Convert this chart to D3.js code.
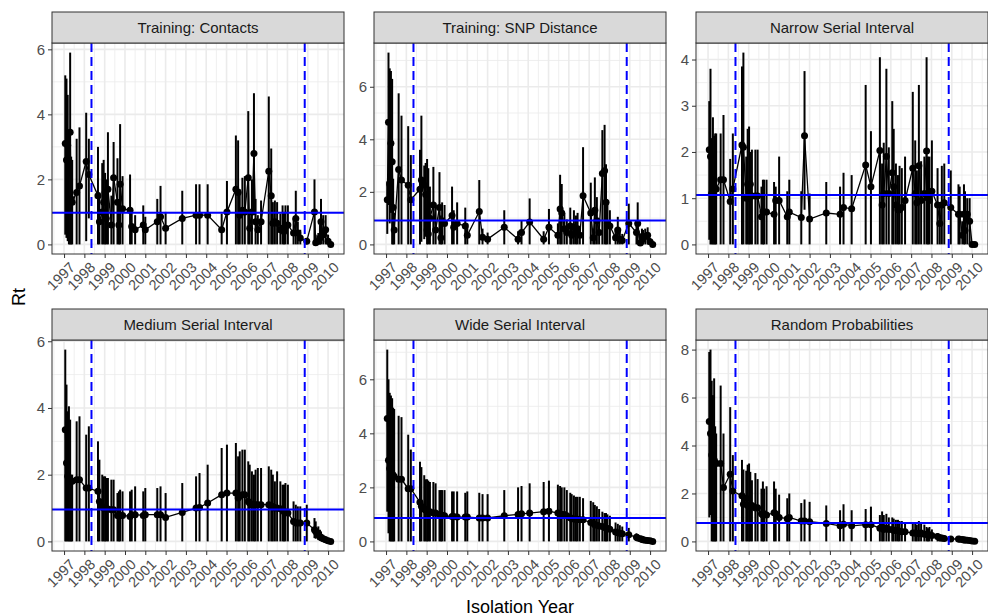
<!DOCTYPE html>
<html>
<head>
<meta charset="utf-8">
<script src="https://cdn.jsdelivr.net/npm/d3@7"></script>
<style>
body { margin: 0; background: #fff; }
text { font-family: "Liberation Sans", Arial, sans-serif; }
</style>
</head>
<body>
<div id="my_dataviz"></div>
<script>
// isolation times shared by every panel
var years = [1997.06,1997.12,1997.18,1997.24,1997.30,1997.35,1997.40,1997.62,1997.76,1998.09,
  1998.22,1998.67,1998.74,1998.88,1998.95,1999.02,1999.08,1999.16,1999.33,1999.44,
  1999.63,1999.70,1999.76,1999.88,2000.25,2000.33,2000.50,2000.90,2001.00,2001.59,
  2001.75,2002.00,2002.82,2003.50,2003.67,2004.07,2004.76,2005.02,2005.46,2005.57,
  2005.65,2005.78,2005.90,2006.07,2006.14,2006.25,2006.35,2006.43,2006.54,2006.70,
  2007.08,2007.20,2007.28,2007.38,2007.49,2007.65,2007.76,2007.83,2007.90,2008.02,
  2008.30,2008.41,2008.51,2008.63,2008.95,2009.33,2009.39,2009.52,2009.60,2009.65,
  2009.76,2009.88,2010.00,2010.13];

// Training: Contacts
var contactsMid = [3.1,2.6,3.05,2.2,3.45,1.4,1.3,1.6,1.8,2.55,
  2.15,1.5,0.7,1.0,1.3,1.6,0.8,1.7,0.6,2.05,
  1.3,0.6,1.85,1.1,1.05,0.55,0.45,0.6,0.45,0.7,
  0.85,0.5,0.8,0.9,0.9,0.9,0.45,1.0,1.7,1.6,
  0.9,1.05,1.0,2.05,0.5,1.0,2.8,0.7,0.45,0.7,
  2.25,1.5,0.65,0.7,0.65,0.45,0.5,0.4,0.55,0.6,
  0.35,0.8,0.35,0.2,0.1,1.0,0.05,0.1,0.2,0.7,
  0.3,0.45,0.1,0.0];
var contactsHi = [5.2,5.1,4.6,3.4,5.9,2.7,2.6,3.25,3.6,4.05,
  3.25,3.0,1.6,2.5,2.6,2.2,2.0,3.45,1.5,3.15,
  2.65,1.3,3.7,2.1,2.15,1.1,0.9,1.2,0.85,1.4,
  1.8,1.0,1.65,1.85,1.85,1.85,0.95,1.95,3.35,3.2,
  1.7,2.05,2.1,4.1,1.0,2.0,4.65,1.4,0.9,1.35,
  4.55,2.95,1.3,1.35,1.3,0.95,1.2,1.0,1.2,1.2,
  0.8,1.65,0.7,0.45,0.2,2.0,0.3,0.35,0.6,1.4,
  0.9,0.9,0.3,0.05];
var contactsLo = [0.3,0.2,0.1,0,0,0,0,0,0,0.1,
  0.8,0,0,0,0,0,0,0,0,0,
  0,0,0,0,0,0,0,0,0,0,
  0,0,0,0,0,0,0,0,0,0,
  0,0,0,0,0,0,0.9,0,0,0,
  0,0,0,0,0,0,0,0,0,0,
  0,0,0,0,0,0,0,0,0,0,
  0,0,0,0];

// Training: SNP Distance
var snpMid = [1.7,4.65,2.3,3.85,3.15,1.4,0.55,2.85,2.45,2.25,
  1.7,2.1,2.45,2.25,1.9,0.55,0.4,1.0,1.5,0.55,
  1.4,0.25,0.9,0.8,1.1,0.65,0.8,0.7,0.35,1.25,
  0.27,0.2,0.65,0.2,0.45,0.85,0.2,0.65,0.35,1.35,
  1.2,0.6,0.45,0.7,0.35,0.65,0.5,0.6,0.35,1.85,
  1.2,0.25,1.3,0.9,0.45,2.7,2.8,1.6,0.8,0.7,
  0.25,0.55,0.2,0.15,0.8,0.45,0.8,0.05,0.3,0.2,
  0.3,0.35,0.1,0.0];
var snpHi = [2.4,7.3,6.7,6.6,6.3,2.5,1.2,5.75,4.9,4.5,
  3.4,3.6,4.9,3.0,3.1,3.25,2.9,2.2,2.95,1.5,
  2.75,1.1,1.6,1.5,2.2,1.3,1.6,1.4,0.8,2.45,
  0.6,0.45,1.3,0.5,0.9,1.75,0.5,1.35,0.8,2.65,
  2.3,1.2,0.95,1.4,0.8,1.3,1.1,1.2,0.7,3.7,
  2.35,0.6,2.55,1.8,0.95,4.35,4.55,3.05,1.6,1.3,
  0.6,1.05,0.5,0.4,1.55,0.9,1.6,0.3,0.6,0.55,
  0.6,0.65,0.25,0.05];
var snpLo = [0.4,1.5,0.8,1.2,0,0,0,0,0,0,
  0,0,0.1,0.2,0.3,0,0,0,0,0,
  0,0,0,0,0,0,0,0,0,0,
  0,0,0,0,0,0,0,0,0,0,
  0,0,0,0,0,0,0,0,0,0,
  0,0,0,0,0,0,0,0,0,0,
  0,0,0,0,0,0,0,0,0,0,
  0,0,0,0];

// Narrow Serial Interval
var narrowMid = [2.05,1.9,1.1,1.4,1.2,1.2,1.2,1.4,1.4,0.93,
  1.2,2.15,2.1,1.0,1.3,1.0,1.3,1.05,1.05,1.05,
  0.6,0.7,0.7,0.7,0.65,0.95,0.95,0.6,0.7,0.58,
  2.35,0.55,0.68,0.65,0.8,0.77,1.72,1.25,2.03,0.85,
  1.1,1.9,1.1,1.55,1.25,0.85,0.75,0.75,0.8,0.95,
  1.65,1.1,0.9,1.7,0.95,1.1,2.02,1.0,0.95,1.15,
  0.85,0.45,0.85,0.9,0.8,0.65,0.65,0.2,0.65,0.3,
  0.65,0.5,0.0,0.0];
var narrowHi = [3.1,3.8,2.3,2.75,2.35,2.4,2.4,2.4,2.8,1.85,
  2.4,3.85,4.15,1.9,2.5,2.55,2.0,2.05,2.05,2.05,
  1.25,1.4,1.4,1.4,1.35,1.25,1.9,1.15,1.4,1.15,
  3.75,1.1,1.35,1.25,1.55,1.5,3.45,2.45,4.05,1.75,
  2.2,3.8,2.1,3.1,2.5,1.75,1.5,1.7,1.65,1.9,
  3.3,2.25,1.6,3.45,1.8,1.9,4.05,1.9,1.9,2.25,
  1.65,0.9,1.7,1.75,1.6,1.3,1.25,0.5,1.3,1.15,
  1.0,1.0,0.05,0.02];
var narrowLo = [0.1,0,0,0,0,0,0,0,0,0,
  0,0,0,0,0,0,0,0,0,0,
  0,0,0,0,0,0,0,0,0,0,
  0.75,0,0,0,0,0,0,0,0,0,
  0,0,0,0,0,0,0,0,0,0,
  0,0,0,0,0,0,0,0,0,0,
  0,0,0,0,0,0,0,0,0,0,
  0,0,0,0];

// Medium Serial Interval
var mediumMid = [3.35,2.35,1.95,1.85,1.85,1.8,1.8,1.85,1.85,1.6,
  1.6,1.5,1.2,1.05,1.0,1.0,0.98,0.97,0.95,0.95,
  0.78,0.77,0.78,0.78,0.75,0.8,0.8,0.78,0.8,0.8,
  0.8,0.72,0.87,1.0,1.02,1.15,1.4,1.45,1.45,1.3,
  1.35,1.4,1.4,1.2,1.15,1.1,1.1,1.1,1.1,1.1,
  1.1,1.05,1.05,1.0,1.0,0.98,0.95,0.9,0.88,0.85,
  0.6,0.55,0.55,0.55,0.55,0.35,0.3,0.2,0.15,0.12,
  0.08,0.05,0.02,0.0];
var mediumHi = [5.75,4.7,3.9,4.05,3.65,2.0,2.0,3.6,3.75,3.2,
  3.45,3.0,2.45,2.0,1.95,1.95,1.9,1.9,1.85,1.85,
  1.45,1.5,1.55,1.5,1.5,1.55,1.65,1.5,1.6,1.6,
  1.65,1.45,1.75,1.95,2.05,2.3,2.8,2.9,2.95,2.55,
  2.7,2.75,2.75,2.4,2.3,2.1,2.0,2.15,2.2,2.2,
  2.25,2.15,2.0,1.8,2.1,1.8,1.7,1.7,1.75,1.7,
  1.2,1.1,1.05,1.05,1.1,0.7,0.6,0.45,0.35,0.3,
  0.2,0.15,0.08,0.03];
var mediumLo = [0,0,0,0,0,0,0,0,0,0,
  0,0,0,0,0,0,0,0,0,0,
  0,0,0,0,0,0,0,0,0,0,
  0,0,0,0,0,0,0,0,0,0,
  0,0,0,0,0,0,0,0,0,0,
  0,0,0,0,0,0,0,0,0,0,
  0,0,0,0,0,0.1,0.08,0.04,0.02,0.01,
  0,0,0,0];

// Wide Serial Interval
var wideMid = [4.55,3.0,2.7,2.6,2.5,2.45,2.4,2.3,2.3,1.95,
  1.95,1.45,1.3,1.2,1.15,1.15,1.1,1.1,1.05,1.05,
  1.0,0.98,0.97,0.95,0.92,0.92,0.9,0.9,0.9,0.87,
  0.87,0.87,0.95,1.0,1.02,1.05,1.1,1.12,1.05,1.02,
  1.0,1.0,0.95,0.88,0.85,0.83,0.82,0.82,0.8,0.8,
  0.7,0.67,0.62,0.6,0.57,0.55,0.52,0.5,0.48,0.45,
  0.35,0.32,0.3,0.28,0.25,0.15,0.13,0.1,0.08,0.06,
  0.04,0.03,0.02,0.0];
var wideHi = [7.1,6.0,5.5,5.4,5.3,4.95,4.9,4.65,4.6,3.95,
  3.4,2.95,2.75,2.45,2.3,2.3,2.25,2.2,2.2,2.15,
  1.9,1.9,1.9,1.9,1.85,1.85,1.85,1.8,1.85,1.8,
  1.75,1.75,1.9,2.0,2.05,2.15,2.2,2.25,2.1,2.05,
  2.0,2.0,1.9,1.8,1.75,1.7,1.65,1.65,1.65,1.6,
  1.5,1.45,1.35,1.3,1.2,1.1,1.05,1.05,1.0,0.95,
  0.7,0.65,0.6,0.55,0.5,0.3,0.27,0.2,0.16,0.12,
  0.09,0.06,0.04,0.01];
var wideLo = [1.1,0.3,0,0,0,0,0,0,0,0,
  0,0,0,0,0,0,0,0,0,0,
  0,0,0,0,0,0,0,0,0,0,
  0,0,0,0,0,0,0,0,0,0,
  0,0,0,0,0,0,0,0,0,0,
  0,0,0,0,0,0,0,0,0,0,
  0,0,0,0,0,0.05,0.04,0.03,0.02,0.01,
  0,0,0,0];

// Random Probabilities
var randomMid = [5.0,4.5,3.6,3.5,3.4,3.3,3.25,3.25,2.25,2.8,
  2.1,1.9,1.55,1.8,1.5,1.5,1.45,1.5,1.4,1.4,
  1.15,1.1,1.15,1.1,1.2,1.15,1.0,0.95,1.0,0.85,
  0.85,0.82,0.75,0.65,0.72,0.65,0.7,0.7,0.55,0.6,
  0.5,0.55,0.5,0.5,0.45,0.45,0.45,0.42,0.4,0.4,
  0.35,0.35,0.33,0.32,0.35,0.3,0.3,0.28,0.28,0.25,
  0.2,0.15,0.14,0.12,0.1,0.1,0.09,0.08,0.06,0.06,
  0.05,0.04,0.02,0.01];
var randomHi = [7.9,8.0,6.7,6.1,6.8,4.8,4.5,6.5,4.5,5.6,
  3.6,3.4,3.0,2.95,3.2,3.25,2.9,2.55,2.85,2.6,
  2.2,2.5,2.2,2.3,2.5,2.2,1.95,1.8,2.0,1.6,
  1.75,1.65,1.5,1.3,1.55,1.3,1.35,1.45,1.1,1.25,
  1.1,1.15,1.0,1.0,0.95,0.9,0.9,0.85,0.85,0.8,
  0.75,0.8,0.7,0.85,0.8,0.7,0.6,0.55,0.6,0.5,
  0.35,0.3,0.27,0.24,0.2,0.18,0.16,0.14,0.12,0.1,
  0.09,0.07,0.04,0.02];
var randomLo = [1.0,1.1,0,0,0,0,0,0,0,0,
  0,0,0,0,0,0,0,0,0,0,
  0,0,0,0,0,0,0,0,0,0,
  0,0,0,0,0,0,0,0,0,0,
  0,0,0,0,0,0,0,0,0,0,
  0,0,0,0,0,0,0,0,0,0,
  0,0,0,0,0,0,0,0,0,0,
  0,0,0,0];

var panelTitles = ["Training: Contacts", "Training: SNP Distance", "Narrow Serial Interval",
  "Medium Serial Interval", "Wide Serial Interval", "Random Probabilities"];
var panelMid = [contactsMid, snpMid, narrowMid, mediumMid, wideMid, randomMid];
var panelLo = [contactsLo, snpLo, narrowLo, mediumLo, wideLo, randomLo];
var panelHi = [contactsHi, snpHi, narrowHi, mediumHi, wideHi, randomHi];
var refLine = [0.97, 0.91, 1.07, 0.96, 0.87, 0.77];
var yTickStep = [2, 2, 1, 2, 2, 2];
var cutYears = [1998.35, 2008.85];
var yearTicks = d3.range(1997, 2011);

// layout of the facet grid
var width = 988, height = 616;
var pw = 292, ph = 211, stripH = 31;
var colX = [52, 374, 696], rowY = [43, 340];

var svg = d3.select("#my_dataviz")
  .append("svg")
  .attr("width", width)
  .attr("height", height);

// shared x scale, expanded 5% like ggplot
var xr = d3.extent(years);
var xpad = (xr[1] - xr[0]) * 0.05;
var x = d3.scaleLinear()
  .domain([xr[0] - xpad, xr[1] + xpad])
  .range([0, pw]);

var xMinor = d3.range(1996.5, 2011, 1).filter(function(v) { return v > x.domain()[0] && v < x.domain()[1]; });

panelTitles.forEach(function(title, p) {
  var col = p % 3, row = Math.floor(p / 3);
  var g = svg.append("g")
    .attr("transform", "translate(" + colX[col] + "," + rowY[row] + ")");

  var rows = years.map(function(t, i) {
    return {t: t, mid: panelMid[p][i], lo: panelLo[p][i], hi: panelHi[p][i]};
  });

  var ymax = d3.max(rows, function(d) { return d.hi; });
  var ymin = d3.min(rows, function(d) { return d.lo; });
  var ypad = (ymax - ymin) * 0.05;
  var y = d3.scaleLinear()
    .domain([ymin - ypad, ymax + ypad])
    .range([ph, 0]);

  var step = yTickStep[p];
  var yMajor = d3.range(0, ymax + ypad + 1e-9, step);
  var yMinor = d3.range(step / 2, ymax + ypad, step);

  // grid
  g.selectAll(".yminor").data(yMinor).enter().append("line")
    .attr("x1", 0).attr("x2", pw)
    .attr("y1", function(d) { return y(d); }).attr("y2", function(d) { return y(d); })
    .style("stroke", "#EBEBEB").style("stroke-width", 0.8);
  g.selectAll(".xminor").data(xMinor).enter().append("line")
    .attr("y1", 0).attr("y2", ph)
    .attr("x1", function(d) { return x(d); }).attr("x2", function(d) { return x(d); })
    .style("stroke", "#EBEBEB").style("stroke-width", 0.8);
  g.selectAll(".ymajor").data(yMajor).enter().append("line")
    .attr("x1", 0).attr("x2", pw)
    .attr("y1", function(d) { return y(d); }).attr("y2", function(d) { return y(d); })
    .style("stroke", "#EBEBEB").style("stroke-width", 1.6);
  g.selectAll(".xmajor").data(yearTicks).enter().append("line")
    .attr("y1", 0).attr("y2", ph)
    .attr("x1", function(d) { return x(d); }).attr("x2", function(d) { return x(d); })
    .style("stroke", "#EBEBEB").style("stroke-width", 1.6);

  // error bars
  g.selectAll(".bar").data(rows).enter().append("line")
    .attr("x1", function(d) { return x(d.t); }).attr("x2", function(d) { return x(d.t); })
    .attr("y1", function(d) { return y(d.lo); }).attr("y2", function(d) { return y(d.hi); })
    .style("stroke", "black").style("stroke-width", 2);

  // connecting line
  g.append("path")
    .datum(rows)
    .attr("d", d3.line().x(function(d) { return x(d.t); }).y(function(d) { return y(d.mid); }))
    .style("fill", "none").style("stroke", "black").style("stroke-width", 1.3);

  // points
  g.selectAll(".pt").data(rows).enter().append("circle")
    .attr("cx", function(d) { return x(d.t); })
    .attr("cy", function(d) { return y(d.mid); })
    .attr("r", 3.5)
    .style("fill", "black");

  // reference lines
  g.append("line")
    .attr("x1", 0).attr("x2", pw)
    .attr("y1", y(refLine[p])).attr("y2", y(refLine[p]))
    .style("stroke", "#0000FF").style("stroke-width", 2);
  g.selectAll(".cut").data(cutYears).enter().append("line")
    .attr("x1", function(d) { return x(d); }).attr("x2", function(d) { return x(d); })
    .attr("y1", 0).attr("y2", ph)
    .style("stroke", "#0000FF").style("stroke-width", 2)
    .style("stroke-dasharray", "9,5");

  // panel border
  g.append("rect")
    .attr("x", 0).attr("y", 0).attr("width", pw).attr("height", ph)
    .style("fill", "none").style("stroke", "#333333").style("stroke-width", 1);

  // strip
  g.append("rect")
    .attr("x", 0).attr("y", -stripH).attr("width", pw).attr("height", stripH)
    .style("fill", "#D9D9D9").style("stroke", "#333333").style("stroke-width", 1);
  g.append("text")
    .attr("x", pw / 2).attr("y", -stripH / 2)
    .attr("text-anchor", "middle").attr("dy", "0.35em")
    .style("font-size", "15px").style("fill", "#1A1A1A")
    .text(title);

  // y axis
  var yAxis = g.append("g")
    .call(d3.axisLeft(y).tickValues(yMajor).tickSize(4).tickPadding(3).tickFormat(d3.format("d")));
  yAxis.select(".domain").remove();
  yAxis.selectAll("line").style("stroke", "#333333");
  yAxis.selectAll("text").style("font-size", "15px").style("fill", "#4D4D4D")
    .style("font-family", "Liberation Sans, Arial, sans-serif");

  // x axis with slanted labels
  var xAxis = g.append("g")
    .attr("transform", "translate(0," + ph + ")")
    .call(d3.axisBottom(x).tickValues(yearTicks).tickSize(4).tickFormat(d3.format("d")));
  xAxis.select(".domain").remove();
  xAxis.selectAll("line").style("stroke", "#333333");
  xAxis.selectAll("text")
    .attr("y", 0).attr("x", 0).attr("dy", 0)
    .attr("transform", "translate(4,7) rotate(-45)")
    .attr("text-anchor", "end")
    .attr("dominant-baseline", "hanging")
    .style("font-size", "14.5px").style("fill", "#4D4D4D")
    .style("font-family", "Liberation Sans, Arial, sans-serif");
});

// axis titles
svg.append("text")
  .attr("transform", "translate(19," + ((rowY[0] + rowY[1] + ph) / 2) + ") rotate(-90)")
  .attr("text-anchor", "middle").attr("dy", "0.35em")
  .style("font-size", "18px").style("fill", "black")
  .text("Rt");
svg.append("text")
  .attr("x", (colX[0] + colX[2] + pw) / 2).attr("y", 613)
  .attr("text-anchor", "middle")
  .style("font-size", "18px").style("fill", "black")
  .text("Isolation Year");
</script>
</body>
</html>
